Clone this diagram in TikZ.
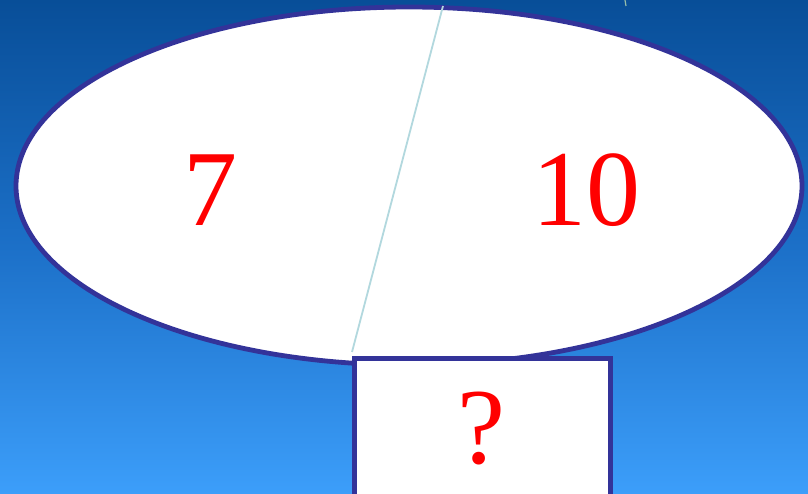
\documentclass[tikz,border=0pt]{standalone}
\usepackage{fontspec}
\setmainfont{Liberation Serif}
\begin{document}
\begin{tikzpicture}[x=1pt,y=-1pt,
  shapeborder/.style={draw={rgb,255:red,51;green,51;blue,153},line width=4.8pt,fill=white},
  bignum/.style={text=red,font=\fontsize{108}{110}\selectfont,inner sep=0pt,anchor=base},
  divline/.style={draw={rgb,255:red,178;green,216;blue,222},line width=1.8pt}]
\shade[top color={rgb,255:red,8;green,78;blue,152},bottom color={rgb,255:red,60;green,158;blue,250},middle color={rgb,255:red,28;green,112;blue,200}] (0,0) rectangle (808,494);
\useasboundingbox (0,0) rectangle (808,494);
\draw[shapeborder] (409,186) ellipse [x radius=393, y radius=179];
\coordinate (ltop) at (443,6);
\coordinate (lbot) at (352,352);
\draw[divline] (ltop) -- (lbot);
\draw[divline,draw={rgb,255:red,150;green,190;blue,170},line width=1.2pt] (625,0) -- (626,6);
\node[shapeborder,minimum width=256,minimum height=142,anchor=north west,inner sep=0pt] (box) at (352,356) {};
\node[bignum] (seven) at (210,226) {7};
\node[bignum] (ten) at (586,226) {10};
\node[bignum] (q) at (481,463) {?};
\end{tikzpicture}
\end{document}
